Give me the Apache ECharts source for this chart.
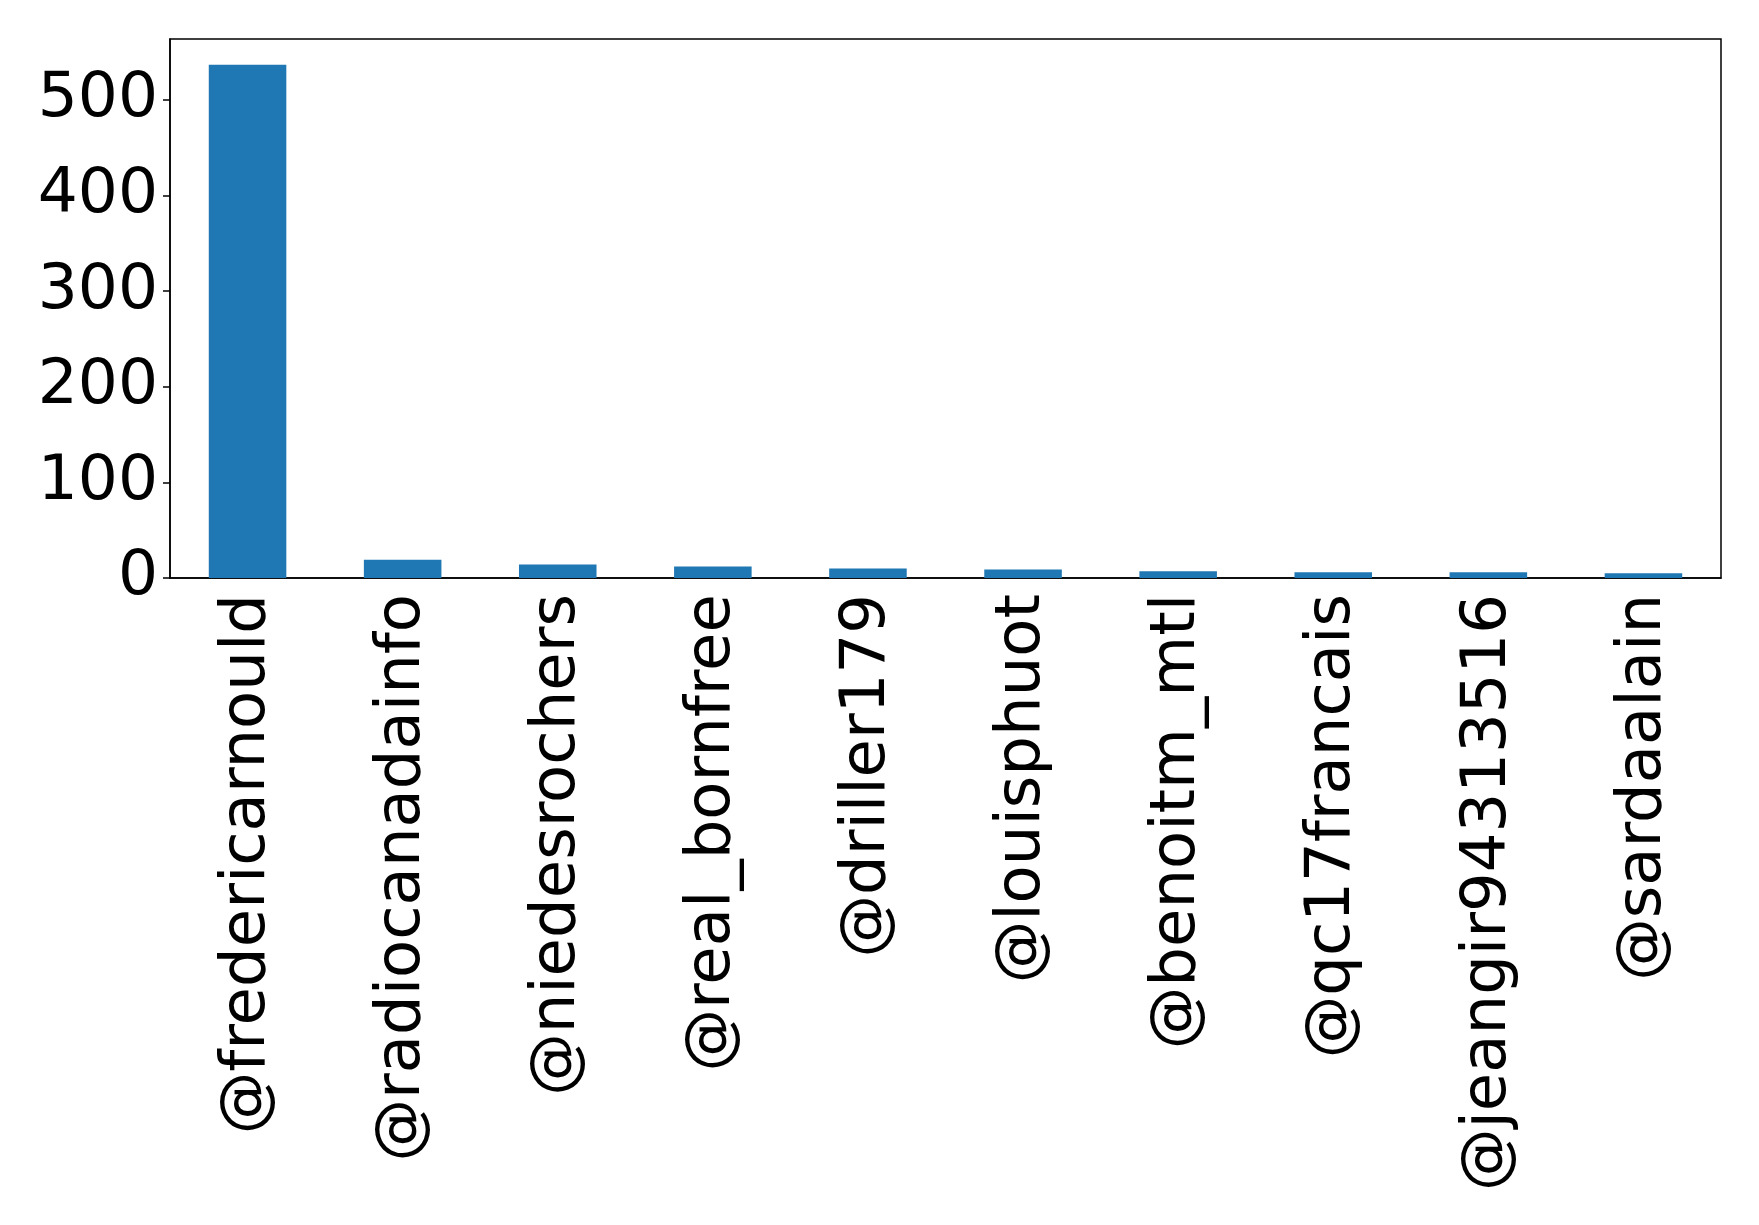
<!DOCTYPE html>
<html>
<head>
<meta charset="utf-8">
<script src="https://cdn.jsdelivr.net/npm/echarts@6/dist/echarts.min.js"></script>
<style>
    html, body { margin: 0; padding: 0; background: #fff; }
    #main { width: 1759px; height: 1225px; }
</style>
</head>
<body>
<div id="main"></div>
<script type="text/javascript">
    // 账号 / 次数
    var accounts = ['@fredericarnould', '@radiocanadainfo', '@niedesrochers', '@real_bornfree', '@driller179',
        '@louisphuot', '@benoitm_mtl', '@qc17francais', '@jeangir94313516', '@sardaalain'];
    var counts = [537, 19, 14, 12, 10, 9, 7, 6, 6, 5];
    var yTicks = [0, 100, 200, 300, 400, 500];

    var myChart = echarts.init(document.getElementById('main'));
    var font = 'DejaVu Sans';
    var option = {
        animation: false,
        grid: {
            left: 170, right: 38, top: 39, bottom: 647,
            show: true, borderColor: '#000', borderWidth: 1.5, backgroundColor: 'transparent'
        },
        xAxis: {
            type: 'category',
            data: accounts,
            axisLine: { lineStyle: { color: '#000', width: 1.5 } },
            axisTick: { alignWithLabel: true, length: 7, lineStyle: { color: '#000', width: 1.5 } },
            axisLabel: { rotate: 90, margin: 16, fontSize: 62.5, fontFamily: font, color: '#000' }
        },
        yAxis: {
            type: 'value',
            min: 0,
            max: 563.85,
            interval: 100,
            splitLine: { show: false },
            axisLine: { show: true, lineStyle: { color: '#000', width: 1.5 } },
            axisTick: { show: true, length: 7, lineStyle: { color: '#000', width: 1.5 } },
            axisLabel: {
                margin: 12, fontSize: 63, fontFamily: font, color: '#000', showMaxLabel: false,
                padding: [10, 0, 0, 0],
                formatter: function (v) { return yTicks.indexOf(v) >= 0 ? String(v) : ''; }
            }
        },
        series: [{
            type: 'bar',
            data: counts,
            barWidth: '50%',
            itemStyle: { color: '#1f77b4' }
        }]
    };
    myChart.setOption(option);
</script>
</body>
</html>
